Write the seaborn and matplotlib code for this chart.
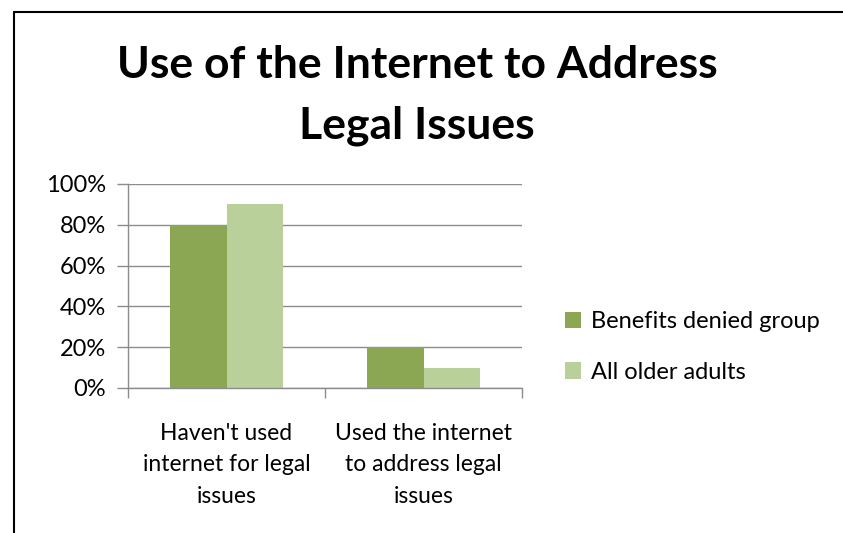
import matplotlib
matplotlib.use("Agg")
import matplotlib.pyplot as plt
import seaborn as sns
import pandas as pd
from matplotlib.lines import Line2D
from matplotlib.ticker import FuncFormatter

categories = ["Haven't used\ninternet for legal\nissues", "Used the internet\nto address legal\nissues"]
series_names = ["Benefits denied group", "All older adults"]
benefits_denied = [0.80, 0.20]
all_older = [0.90, 0.10]
y_ticks = [0, 0.2, 0.4, 0.6, 0.8, 1.0]

sns.set_theme(style="white")
plt.rcParams["font.family"] = ["Lato", "DejaVu Sans"]
plt.rcParams["text.color"] = "black"
plt.rcParams["xtick.color"] = "black"
plt.rcParams["ytick.color"] = "black"

df = pd.DataFrame({
    "category": categories * 2,
    "group": [series_names[0]] * 2 + [series_names[1]] * 2,
    "value": benefits_denied + all_older,
})

colors = ["#8BA753", "#B9D09A"]

fig = plt.figure(figsize=(8.43, 5.33), dpi=100)
ax = fig.add_axes([128 / 843, 1 - 388 / 533, (522 - 128) / 843, (388 - 184) / 533])

sns.barplot(data=df, x="category", y="value", hue="group", hue_order=series_names,
            palette=colors, width=0.57, gap=0, saturation=1, ax=ax, legend=True,
            linewidth=0, errorbar=None)

ax.set_ylim(0, 1.0)
ax.set_xlim(-0.5, 1.5)
ax.set_yticks(y_ticks)
ax.yaxis.set_major_formatter(FuncFormatter(lambda v, _: f"{v * 100:.0f}%"))
ax.yaxis.grid(True, color="#8C8C8C", linewidth=1)
ax.set_axisbelow(True)
ax.set_xlabel("")
ax.set_ylabel("")

for side in ["top", "right"]:
    ax.spines[side].set_visible(False)
for side in ["left", "bottom"]:
    ax.spines[side].set_color("#8C8C8C")
    ax.spines[side].set_linewidth(1)

ax.tick_params(axis="y", which="both", left=True, length=8, width=1, color="#8C8C8C",
               labelsize=17, pad=8, labelcolor="black")
ax.set_xticks([-0.5, 0.5, 1.5], minor=False)
ax.set_xticklabels(["", "", ""])
ax.tick_params(axis="x", which="major", bottom=True, length=7, width=1, color="#8C8C8C")
ax.set_xticks([0, 1], minor=True)
ax.set_xticklabels(categories, minor=True, fontsize=16.5, linespacing=1.62, color="black")
ax.tick_params(axis="x", which="minor", bottom=False, length=0, pad=25)

leg = ax.legend(loc="center left", bbox_to_anchor=(1.085, 0.2), frameon=False,
                fontsize=17, handlelength=0.7, handleheight=0.7, handletextpad=0.4,
                labelspacing=1.25, borderaxespad=0)
for t in leg.get_texts():
    t.set_color("black")

fig.text(0.495, 0.915, "Use of the Internet to Address\nLegal Issues", ha="center", va="top",
         fontsize=32, fontweight="bold", linespacing=1.6, color="black")

# frame around the chart area
fig.add_artist(Line2D([14 / 843, 14 / 843], [0, 1 - 12 / 533], color="black", linewidth=1.5,
                      transform=fig.transFigure))
fig.add_artist(Line2D([14 / 843, 1], [1 - 12 / 533, 1 - 12 / 533], color="black", linewidth=1.5,
                      transform=fig.transFigure))

fig.savefig("out.png", dpi=100, facecolor="white")
